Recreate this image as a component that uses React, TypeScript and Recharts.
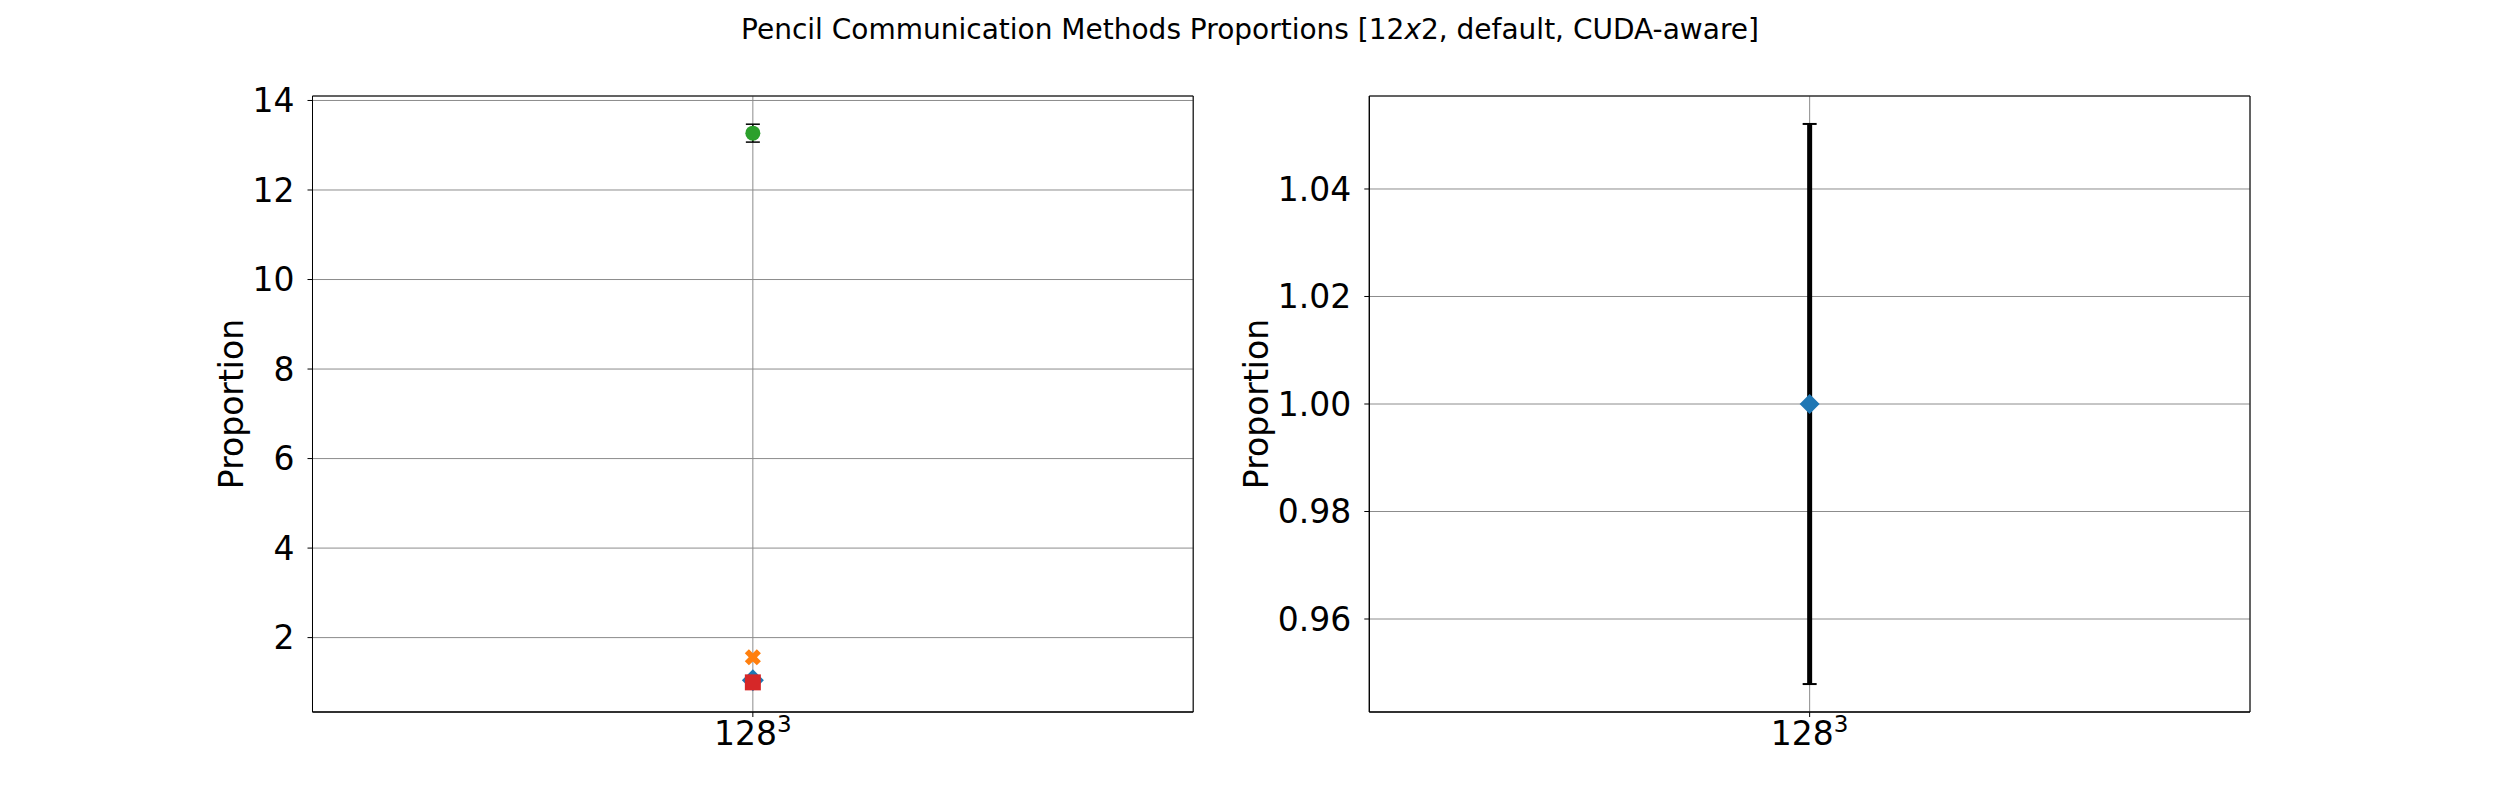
import React from 'react';
import { ScatterChart, Scatter, XAxis, YAxis, CartesianGrid, ErrorBar, ReferenceArea } from 'recharts';

// ---- data ----
const categories = ['128'];
const categoryExponents = ['3'];
const categoryX = [0];

const blueValues = [1.05];
const blueErrors = [0.0];
const orangeValues = [1.56];
const orangeErrors = [0.0];
const greenValues = [13.27];
const greenErrors = [0.2];
const redValues = [1.0];
const redErrors = [0.0];

const rightValues = [1.0];
const rightErrors = [0.0521];

const leftYTicks = [2, 4, 6, 8, 10, 12, 14];
const rightYTicks = [0.96, 0.98, 1.0, 1.02, 1.04];
const leftYDomain = [0.338, 14.1];
const rightYDomain = [0.9427, 1.0573];
const xDomain = [-1, 1];

const titleText = 'Pencil Communication Methods Proportions [12';
const titleItalic = 'x';
const titleRest = '2, default, CUDA-aware]';
const yLabel = 'Proportion';

const FONT = '"DejaVu Sans", sans-serif';
const TICK_FS = 33;
const GRID = '#8c8c8c';

const mk = (vals: number[], errs: number[]) =>
  categoryX.map((x, i) => ({ x, y: vals[i], err: errs[i] }));

// ---- marker shapes ----
const noShape = () => <g />;
const circleShape = (r: number, fill: string) => (p: any) =>
  <circle cx={p.cx} cy={p.cy} r={r} fill={fill} />;
const diamondShape = (h: number, fill: string) => (p: any) =>
  <path d={`M${p.cx},${p.cy - h}L${p.cx + h},${p.cy}L${p.cx},${p.cy + h}L${p.cx - h},${p.cy}Z`} fill={fill} />;
const squareShape = (h: number, fill: string) => (p: any) =>
  <rect x={p.cx - h} y={p.cy - h} width={2 * h} height={2 * h} fill={fill} />;
const xShape = (L: number, a: number, fill: string) => (p: any) => {
  const pts = [
    [-a, -L], [a, -L], [a, -a], [L, -a], [L, a], [a, a],
    [a, L], [-a, L], [-a, a], [-L, a], [-L, -a], [-a, -a],
  ].map(([x, y]) => [(x - y) / Math.SQRT2 + p.cx, (x + y) / Math.SQRT2 + p.cy]);
  return <polygon points={pts.map((q) => q.join(',')).join(' ')} fill={fill} />;
};

const XTick = (props: any) => {
  const { x, y, payload } = props;
  const i = categoryX.indexOf(payload.value);
  return (
    <text x={x} y={y} dy="0.71em" textAnchor="middle" fontSize={TICK_FS} fontFamily={FONT} fill="#000">
      {categories[i]}
      <tspan fontSize={23} dy={-13}>{categoryExponents[i]}</tspan>
    </text>
  );
};

const makeYTick = (shift: number, fmt: (v: number) => string) => (props: any) => {
  const { x, y, payload } = props;
  return (
    <text x={x + shift} y={y} dy="0.355em" textAnchor="end" fontSize={TICK_FS} fontFamily={FONT} fill="#000">
      {fmt(payload.value)}
    </text>
  );
};

const makeYLabel = (dist: number) => (p: any) => {
  const vb = p.viewBox || {};
  const x = vb.x + vb.width - dist;
  const y = vb.y + vb.height / 2;
  return (
    <text x={x} y={y} transform={`rotate(-90, ${x}, ${y})`} textAnchor="middle"
      dominantBaseline="central" fontSize={33} fontFamily={FONT} fill="#000">
      {yLabel}
    </text>
  );
};

export default function App() {
  return (
    <div style={{ position: 'absolute', left: 0, top: 0, width: 2500, height: 800, background: '#fff', fontFamily: FONT }}>
      <div style={{ position: 'absolute', top: 16, left: 0, width: 2500, textAlign: 'center', fontSize: 28, lineHeight: '28px', color: '#000', fontFamily: FONT }}>
        {titleText}<span style={{ fontStyle: 'italic' }}>{titleItalic}</span>{titleRest}
      </div>

      {/* left subplot */}
      <div style={{ position: 'absolute', left: 0, top: 0 }}>
        <ScatterChart width={1250} height={800} margin={{ top: 96, bottom: 0, left: 202.5, right: 56.8 }}>
          <CartesianGrid stroke={GRID} strokeWidth={1} />
          <XAxis type="number" dataKey="x" domain={xDomain} ticks={categoryX} allowDataOverflow
            tick={<XTick />} tickSize={5} tickMargin={5} height={88}
            axisLine={{ stroke: '#000' }} tickLine={{ stroke: '#000' }} />
          <YAxis type="number" dataKey="y" domain={leftYDomain} ticks={leftYTicks} allowDataOverflow interval={0}
            width={110} tick={makeYTick(0, (v) => String(v))} tickSize={5} tickMargin={13}
            axisLine={{ stroke: '#000' }} tickLine={{ stroke: '#000' }} label={makeYLabel(81.5)} />
          <ReferenceArea x1={xDomain[0]} x2={xDomain[1]} y1={leftYDomain[0]} y2={leftYDomain[1]}
            fill="none" stroke="#000" strokeWidth={1} ifOverflow="visible" />
          {/* error bars below markers */}
          <Scatter data={mk(greenValues, greenErrors)} shape={noShape} isAnimationActive={false}>
            <ErrorBar dataKey="err" direction="y" width={7} stroke="#000" strokeWidth={1.5} isAnimationActive={false} />
          </Scatter>
          <Scatter data={mk(blueValues, blueErrors)} shape={diamondShape(11, '#1f77b4')} isAnimationActive={false} />
          <Scatter data={mk(orangeValues, orangeErrors)} shape={xShape(8.5, 2.9, '#ff7f0e')} isAnimationActive={false} />
          <Scatter data={mk(greenValues, greenErrors)} shape={circleShape(7.5, '#2ca02c')} isAnimationActive={false} />
          <Scatter data={mk(redValues, redErrors)} shape={squareShape(8, '#d62728')} isAnimationActive={false} />
        </ScatterChart>
      </div>

      {/* right subplot */}
      <div style={{ position: 'absolute', left: 1150, top: 0 }}>
        <ScatterChart width={1350} height={800} margin={{ top: 96, bottom: 0, left: 109.3, right: 250 }}>
          <CartesianGrid stroke={GRID} strokeWidth={1} />
          <XAxis type="number" dataKey="x" domain={xDomain} ticks={categoryX} allowDataOverflow
            tick={<XTick />} tickSize={5} tickMargin={5} height={88}
            axisLine={{ stroke: '#000' }} tickLine={{ stroke: '#000' }} />
          <YAxis type="number" dataKey="y" domain={rightYDomain} ticks={rightYTicks} allowDataOverflow interval={0}
            width={110} tick={makeYTick(0, (v) => v.toFixed(2))} tickSize={5} tickMargin={13}
            axisLine={{ stroke: '#000' }} tickLine={{ stroke: '#000' }} label={makeYLabel(113.3)} />
          <ReferenceArea x1={xDomain[0]} x2={xDomain[1]} y1={rightYDomain[0]} y2={rightYDomain[1]}
            fill="none" stroke="#000" strokeWidth={1} ifOverflow="visible" />
          <Scatter data={mk(rightValues, rightErrors)} shape={noShape} isAnimationActive={false}>
            <ErrorBar dataKey="err" direction="y" width={0} stroke="#000" strokeWidth={5} isAnimationActive={false} />
            <ErrorBar dataKey="err" direction="y" width={7} stroke="#000" strokeWidth={2} isAnimationActive={false} />
          </Scatter>
          <Scatter data={mk(rightValues, rightErrors)} shape={diamondShape(10, '#1f77b4')} isAnimationActive={false} />
        </ScatterChart>
      </div>
    </div>
  );
}
